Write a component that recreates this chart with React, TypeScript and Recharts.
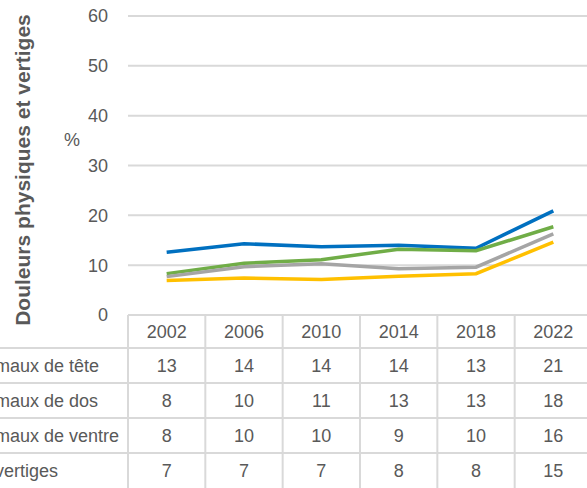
import React from 'react'
import { LineChart, Line, XAxis, YAxis, CartesianGrid } from 'recharts'

const years = ['2002', '2006', '2010', '2014', '2018', '2022']
const mauxDeTete = [12.6, 14.3, 13.7, 14.0, 13.4, 20.9]
const mauxDeDos = [8.3, 10.4, 11.1, 13.2, 12.9, 17.7]
const mauxDeVentre = [7.7, 9.7, 10.3, 9.3, 9.6, 16.3]
const vertiges = [6.9, 7.4, 7.1, 7.8, 8.3, 14.6]
const yTicks = [0, 10, 20, 30, 40, 50, 60]

const series = [
	{ key: 'tete', name: 'maux de tête', values: mauxDeTete, color: '#0070C0' },
	{ key: 'dos', name: 'maux de dos', values: mauxDeDos, color: '#70AD47' },
	{ key: 'ventre', name: 'maux de ventre', values: mauxDeVentre, color: '#A5A5A5' },
	{ key: 'vertiges', name: 'vertiges', values: vertiges, color: '#FFC000' },
]

const data = years.map((year, i) => {
	const row: Record<string, string | number> = { year }
	series.forEach((s) => (row[s.key] = s.values[i]))
	return row
})

const CHART_W = 600
const CHART_H = 488
const AXIS_W = 128
const PLOT_TOP = 16
const TABLE_H = 173
const PLOT_W = CHART_W - AXIS_W - 8
const COL = PLOT_W / years.length
const TABLE_TOP = CHART_H - TABLE_H
const HEADER_H = 33
const ROW_H = 35
const GRID = '#D9D9D9'
const TEXT = '#595959'
const FONT = '"Liberation Sans", Arial, sans-serif'

const rowY = (r: number) => TABLE_TOP + HEADER_H + r * ROW_H

const TableTick = (props: any) => {
	const { x, payload, index } = props
	const left = x - COL / 2
	const right = x + COL / 2
	const col = years.indexOf(payload.value)
	return (
		<g>
			<line x1={left} x2={right} y1={TABLE_TOP} y2={TABLE_TOP} stroke={GRID} strokeWidth={2} />
			{series.map((s, r) => (
				<line key={s.key} x1={left} x2={right} y1={rowY(r)} y2={rowY(r)} stroke={GRID} strokeWidth={2} />
			))}
			<line x1={left} x2={left} y1={TABLE_TOP} y2={CHART_H} stroke={GRID} strokeWidth={2} />
			{index === years.length - 1 && (
				<line x1={right} x2={right} y1={TABLE_TOP} y2={CHART_H} stroke={GRID} strokeWidth={2} />
			)}
			<text x={x} y={TABLE_TOP + HEADER_H / 2} textAnchor='middle' dominantBaseline='central' fill={TEXT} fontSize={18} fontFamily={FONT}>
				{payload.value}
			</text>
			{series.map((s, r) => (
				<text key={s.key} x={x} y={rowY(r) + ROW_H / 2} textAnchor='middle' dominantBaseline='central' fill={TEXT} fontSize={18} fontFamily={FONT}>
					{Math.round(s.values[col])}
				</text>
			))}
			{index === 0 &&
				series.map((s, r) => (
					<g key={s.key}>
						<line x1={0} x2={left} y1={rowY(r)} y2={rowY(r)} stroke={GRID} strokeWidth={2} />
						<text x={-5} y={rowY(r) + ROW_H / 2} dominantBaseline='central' fill={TEXT} fontSize={18} fontFamily={FONT}>
							{s.name}
						</text>
					</g>
				))}
		</g>
	)
}

const App = () => {
	return (
		<div style={{ position: 'absolute', left: 0, top: 0, width: 587, height: 488, overflow: 'hidden', background: '#fff' }}>
			<LineChart width={CHART_W} height={CHART_H} data={data} margin={{ top: PLOT_TOP, right: 8, left: 0, bottom: 0 }}>
				<CartesianGrid vertical={false} stroke={GRID} strokeWidth={2} />
				<XAxis
					dataKey='year'
					height={TABLE_H}
					axisLine={false}
					tickLine={false}
					interval={0}
					padding={{ left: COL / 2, right: COL / 2 }}
					tick={<TableTick />}
				/>
				<YAxis
					width={AXIS_W}
					domain={[0, 60]}
					ticks={yTicks}
					axisLine={false}
					tickLine={false}
					tickSize={0}
					tickMargin={20}
					tick={{ fill: TEXT, fontSize: 18, fontFamily: FONT }}
				/>
				{series.map((s) => (
					<Line
						key={s.key}
						dataKey={s.key}
						name={s.name}
						stroke={s.color}
						strokeWidth={3.5}
						dot={false}
						isAnimationActive={false}
					/>
				))}
			</LineChart>
			<svg width={120} height={340} style={{ position: 'absolute', left: 0, top: 0 }}>
				<text
					x={22}
					y={170}
					transform='rotate(-90 22 170)'
					textAnchor='middle'
					dominantBaseline='central'
					fontWeight='bold'
					fontSize={21}
					fontFamily={FONT}
					fill={TEXT}>
					Douleurs physiques et vertiges
				</text>
				<text x={72} y={140} textAnchor='middle' dominantBaseline='central' fontSize={18} fontFamily={FONT} fill={TEXT}>
					%
				</text>
			</svg>
		</div>
	)
}

export default App
